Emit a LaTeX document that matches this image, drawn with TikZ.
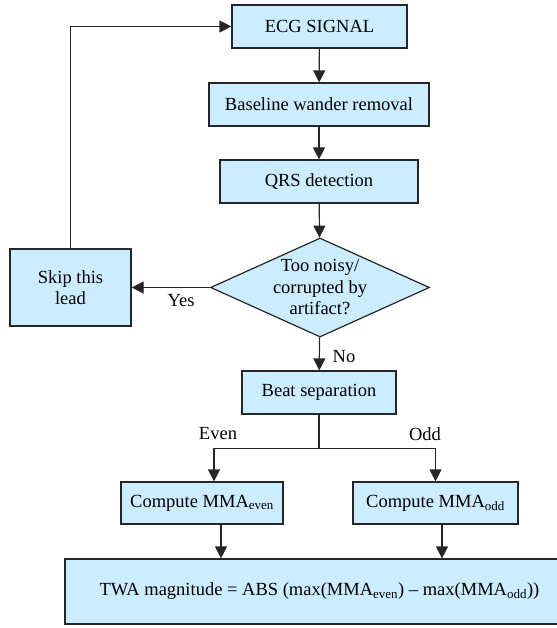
\documentclass[tikz,border=0pt]{standalone}
\usepackage{fontspec}
\setmainfont{Liberation Serif}
\usetikzlibrary{shapes.geometric,arrows.meta}
\definecolor{boxblue}{RGB}{204,236,255}
\tikzset{
  stepbox/.style={rectangle, draw=black!85, fill=boxblue, line width=1.2pt, align=center, inner sep=0pt},
  decision/.style={diamond, aspect=2.2, draw=black!85, fill=boxblue, line width=1.2pt, align=center, inner sep=0pt},
  flow/.style={-{Triangle[length=12pt,width=12pt]}, line width=1.2pt, draw=black!85},
  lbl/.style={inner sep=0pt}
}
\begin{document}
\begin{tikzpicture}[x=1pt, y=-1pt, font=\fontsize{18.5}{21.5}\selectfont]
  \useasboundingbox (0,0) rectangle (556,628);
  \begin{scope}[every node/.style={stepbox}]
    \node (ecg) [minimum width=175, minimum height=43] at (319.5,26.5) {ECG SIGNAL} ;
    \node (base) [minimum width=220, minimum height=43] at (319,104.5) {Baseline wander removal} ;
    \node (qrs) [minimum width=198, minimum height=43] at (319,181.5) {QRS detection} ;
    \node (skip) [minimum width=121, minimum height=77] at (70.5,287.5) {Skip this\\lead} ;
    \node (beat) [minimum width=154, minimum height=43] at (319,392.5) {Beat separation} ;
    \node (even) [minimum width=162, minimum height=42] at (202,503) {Compute MMA\textsubscript{even}} ;
    \node (odd) [minimum width=165, minimum height=42] at (435.5,503) {Compute MMA\textsubscript{odd}} ;
    \node (twa) [minimum width=509, minimum height=65] at (319.5,591.5) {TWA magnitude = ABS (max(MMA\textsubscript{even}) -- max(MMA\textsubscript{odd}))} ;
  \end{scope}
  \node (noisy) [decision, minimum width=219, minimum height=99] at (320,287.5) {Too noisy/\\corrupted by\\artifact?} ;

  \node (yes) [lbl] at (181,301) {Yes} ;
  \node (no) [lbl] at (344,357) {No} ;
  \node (evenlbl) [lbl] at (218,434) {Even} ;
  \node (oddlbl) [lbl] at (425,434) {Odd} ;

  \begin{scope}[flow]
    \draw (ecg) to (base);
    \draw (base) to (qrs);
    \draw (qrs) to (noisy);
    \draw (noisy.west) to (skip.east);
    \draw (skip.north) |- (ecg.west);
    \draw (noisy) to (beat);
    \draw[-] (beat.south) -- ++(0,34) coordinate (split);
    \draw (split) -| ([xshift=12]even.north);
    \draw (split) -| (odd.north);
    \draw ([xshift=19]even.south) -- ([xshift=19]even.south |- twa.north);
    \draw ([xshift=6.5]odd.south) -- ([xshift=6.5]odd.south |- twa.north);
  \end{scope}
\end{tikzpicture}
\end{document}
